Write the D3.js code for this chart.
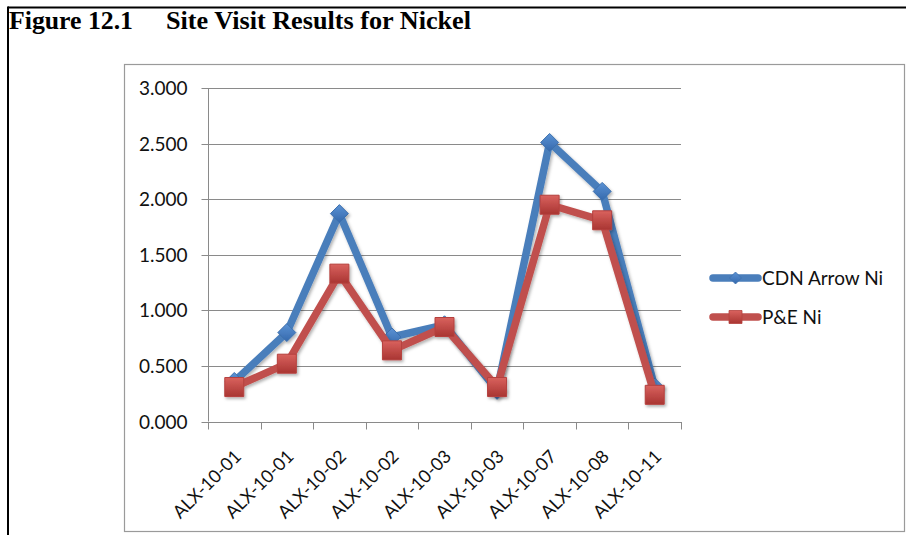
<!DOCTYPE html>
<html>
<head>
<meta charset="utf-8">
<script src="https://cdn.jsdelivr.net/npm/d3@7"></script>
<style>
  html, body { margin: 0; padding: 0; background: #fff; }
  svg { display: block; }
</style>
</head>
<body>
<svg id="chart" width="906" height="535"></svg>
<script>
// Sample labels along the x axis (duplicates are separate samples)
const categories = ["ALX-10-01", "ALX-10-01", "ALX-10-02", "ALX-10-02", "ALX-10-03",
                    "ALX-10-03", "ALX-10-07", "ALX-10-08", "ALX-10-11"];
// Nickel results for each sample
const cdnArrowNi = [0.36, 0.80, 1.87, 0.76, 0.87, 0.28, 2.51, 2.07, 0.31];
const peNi       = [0.31, 0.52, 1.33, 0.64, 0.85, 0.31, 1.95, 1.81, 0.24];
const seriesNames = ["CDN Arrow Ni", "P&E Ni"];
const yTicks = [0, 0.5, 1, 1.5, 2, 2.5, 3];

const svg = d3.select("#chart");
const defs = svg.append("defs");

// soft drop shadow used by lines and markers
const shadow = defs.append("filter").attr("id", "shadow")
  .attr("x", "-30%").attr("y", "-30%").attr("width", "160%").attr("height", "160%");
shadow.append("feDropShadow").attr("dx", 1.5).attr("dy", 2).attr("stdDeviation", 1.6)
  .attr("flood-color", "#000").attr("flood-opacity", 0.3);

function vGrad(id, top, bottom) {
  const g = defs.append("linearGradient").attr("id", id)
    .attr("x1", 0).attr("y1", 0).attr("x2", 0).attr("y2", 1);
  g.append("stop").attr("offset", "0%").attr("stop-color", top);
  g.append("stop").attr("offset", "100%").attr("stop-color", bottom);
}
vGrad("blueFill", "#5b92d4", "#3569ad");
vGrad("redFill", "#d9625e", "#a93532");

// page rules and chart frame
svg.append("line").attr("x1", 8).attr("x2", 906).attr("y1", 7.5).attr("y2", 7.5)
  .attr("stroke", "#000").attr("stroke-width", 2);
svg.append("line").attr("x1", 8).attr("x2", 8).attr("y1", 6.5).attr("y2", 535)
  .attr("stroke", "#000").attr("stroke-width", 2);
svg.append("rect").attr("x", 124.5).attr("y", 64.5).attr("width", 780).attr("height", 467)
  .attr("fill", "none").attr("stroke", "#9a9a9a").attr("stroke-width", 1.2);

// heading
const title = svg.append("g")
  .attr("font-family", "'Liberation Serif', 'Times New Roman', serif")
  .attr("font-weight", "bold").attr("font-size", 26).attr("fill", "#000");
title.append("text").attr("x", 9).attr("y", 29)
  .attr("textLength", 124).attr("lengthAdjust", "spacingAndGlyphs").text("Figure 12.1");
title.append("text").attr("x", 166).attr("y", 29)
  .attr("textLength", 305).attr("lengthAdjust", "spacingAndGlyphs").text("Site Visit Results for Nickel");

// scales
const x = d3.scaleBand().domain(d3.range(categories.length)).range([208, 681]).padding(0);
const y = d3.scaleLinear().domain([0, 3]).range([421.5, 88]);
const cx = i => x(i) + x.bandwidth() / 2;

const font = "Lato, 'Open Sans', sans-serif";
const axisColor = "#8a8a8a";

// horizontal gridlines
svg.append("g").selectAll("line").data(yTicks.filter(d => d > 0)).join("line")
  .attr("x1", 208).attr("x2", 681)
  .attr("y1", d => Math.round(y(d)) + 0.5).attr("y2", d => Math.round(y(d)) + 0.5)
  .attr("stroke", axisColor).attr("stroke-width", 1);

// y axis
const yAxis = svg.append("g").attr("transform", "translate(208.5,0)")
  .call(d3.axisLeft(y).tickValues(yTicks).tickFormat(d3.format(".3f")).tickSize(7).tickPadding(14));
yAxis.select(".domain").attr("stroke", axisColor).attr("d", `M0,${y(3)}V${y(0)}`);
yAxis.selectAll(".tick line").attr("stroke", axisColor);
yAxis.selectAll(".tick").attr("transform", d => `translate(0,${Math.round(y(d)) + 0.5})`);
yAxis.selectAll("text").attr("font-family", font).attr("font-size", 19).attr("fill", "#111")
  .attr("dy", "0.36em");

// x axis with ticks between categories
const xg = svg.append("g");
xg.append("line").attr("x1", 208).attr("x2", 681)
  .attr("y1", Math.round(y(0)) + 0.5).attr("y2", Math.round(y(0)) + 0.5)
  .attr("stroke", axisColor);
const bounds = d3.range(categories.length + 1).map(i => i === categories.length ? x.range()[1] : x(i));
xg.selectAll("line.tick").data(bounds).join("line").attr("class", "tick")
  .attr("x1", d => Math.round(d) + 0.5).attr("x2", d => Math.round(d) + 0.5)
  .attr("y1", Math.round(y(0))).attr("y2", Math.round(y(0)) + 7.5)
  .attr("stroke", axisColor);
xg.selectAll("text").data(categories).join("text")
  .attr("transform", (d, i) => `translate(${cx(i) + 8},${y(0) + 36}) rotate(-45)`)
  .attr("text-anchor", "end")
  .attr("font-family", font).attr("font-size", 18).attr("fill", "#111")
  .text(d => d);

// series lines and markers
const line = d3.line().x((d, i) => cx(i)).y(d => y(d));
const series = [
  { name: seriesNames[0], values: cdnArrowNi, stroke: "#4a7ebb", fill: "url(#blueFill)", edge: "#3d70ad", shape: "diamond" },
  { name: seriesNames[1], values: peNi, stroke: "#c0504d", fill: "url(#redFill)", edge: "#b5413e", shape: "square" }
];

const diamond = s => `M0,${-s}L${s},0L0,${s}L${-s},0Z`;
const square = s => `M${-s},${-s}H${s}V${s}H${-s}Z`;

series.forEach(s => {
  const g = svg.append("g").attr("filter", "url(#shadow)");
  g.append("path").datum(s.values).attr("d", line)
    .attr("fill", "none").attr("stroke", s.stroke).attr("stroke-width", 7.5)
    .attr("stroke-linejoin", "round").attr("stroke-linecap", "round");
  g.selectAll("path.mark").data(s.values).join("path").attr("class", "mark")
    .attr("transform", (d, i) => `translate(${cx(i)},${y(d)})`)
    .attr("d", s.shape === "diamond" ? diamond(9) : square(9.5))
    .attr("fill", s.fill).attr("stroke", s.edge).attr("stroke-width", 1);
});

// legend
const legend = svg.append("g");
series.forEach((s, k) => {
  const ly = 278 + k * 39;
  const g = legend.append("g");
  g.append("line").attr("x1", 713).attr("x2", 758).attr("y1", ly).attr("y2", ly)
    .attr("stroke", s.stroke).attr("stroke-width", 7.5).attr("stroke-linecap", "round");
  g.append("path").attr("transform", `translate(735.5,${ly})`)
    .attr("d", s.shape === "diamond" ? diamond(6) : square(6.5))
    .attr("fill", s.fill).attr("stroke", s.edge).attr("stroke-width", 0.8);
  g.append("text").attr("x", 762).attr("y", ly).attr("dy", "0.36em")
    .attr("font-family", font).attr("font-size", 19).attr("fill", "#111")
    .text(s.name);
});
</script>
</body>
</html>
